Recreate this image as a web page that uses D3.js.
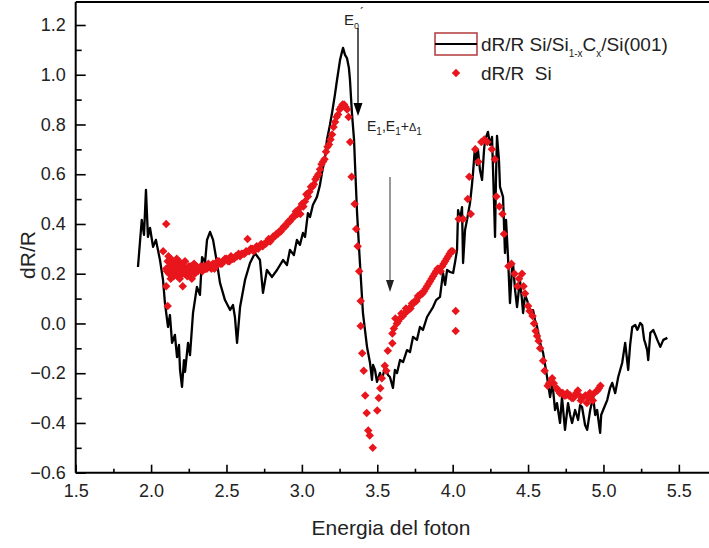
<!DOCTYPE html>
<html><head><meta charset="utf-8">
<script src="https://cdn.jsdelivr.net/npm/d3@7"></script>
<style>body{margin:0;background:#fff}svg{display:block}text{font-family:"Liberation Sans",Arial,sans-serif;fill:#222}</style>
</head><body><svg id="c" width="709" height="548"></svg>
<script>
// Black line: dR/R Si/Si(1-x)C(x)/Si(001)
const lineX = [1.913,1.938,1.953,1.966,1.979,1.993,2.013,2.032,2.059,2.079,2.092,2.112,2.125,2.139,2.158,2.172,2.185,2.192,2.205,2.218,2.225,2.245,2.258,2.278,2.304,2.324,2.338,2.358,2.371,2.391,2.411,2.437,2.457,2.490,2.524,2.543,2.556,2.570,2.590,2.623,2.656,2.689,2.722,2.742,2.768,2.802,2.835,2.875,2.901,2.921,2.947,2.967,2.987,3.007,3.021,3.040,3.054,3.073,3.100,3.120,3.133,3.153,3.166,3.186,3.200,3.219,3.233,3.253,3.266,3.273,3.286,3.299,3.312,3.319,3.332,3.346,3.352,3.366,3.385,3.405,3.432,3.452,3.465,3.472,3.485,3.498,3.518,3.531,3.551,3.571,3.584,3.604,3.617,3.631,3.651,3.671,3.697,3.717,3.737,3.763,3.783,3.803,3.830,3.850,3.870,3.890,3.916,3.936,3.950,3.963,3.983,4.003,4.016,4.029,4.036,4.049,4.062,4.069,4.082,4.095,4.115,4.128,4.135,4.148,4.161,4.168,4.181,4.195,4.208,4.215,4.234,4.248,4.261,4.274,4.281,4.287,4.294,4.307,4.314,4.334,4.347,4.354,4.367,4.380,4.393,4.400,4.414,4.427,4.446,4.460,4.467,4.480,4.493,4.513,4.533,4.546,4.560,4.580,4.600,4.613,4.626,4.646,4.659,4.666,4.679,4.692,4.712,4.725,4.745,4.765,4.779,4.792,4.812,4.832,4.845,4.858,4.878,4.892,4.912,4.932,4.945,4.958,4.978,4.985,4.998,5.025,5.044,5.058,5.078,5.098,5.111,5.124,5.144,5.164,5.177,5.191,5.211,5.224,5.231,5.244,5.257,5.270,5.277,5.290,5.297,5.311,5.330,5.344,5.357,5.377,5.397,5.424];
const lineY = [0.227,0.416,0.356,0.537,0.348,0.384,0.308,0.336,0.255,0.175,0.082,-0.014,0.034,-0.078,-0.046,-0.135,-0.086,-0.187,-0.255,-0.147,-0.195,-0.078,-0.127,0.042,0.147,0.115,0.267,0.247,0.336,0.368,0.336,0.243,0.163,0.094,0.054,0.074,0.026,-0.078,0.066,0.175,0.243,0.283,0.255,0.123,0.215,0.187,0.215,0.255,0.235,0.296,0.275,0.336,0.316,0.364,0.348,0.444,0.428,0.476,0.509,0.557,0.605,0.665,0.738,0.798,0.846,0.919,0.979,1.059,1.092,1.108,1.080,1.067,1.027,0.979,0.846,0.738,0.645,0.444,0.243,0.042,-0.094,-0.159,-0.227,-0.167,-0.187,-0.235,-0.199,-0.227,-0.175,-0.207,-0.215,-0.259,-0.187,-0.199,-0.147,-0.155,-0.107,-0.115,-0.054,-0.066,-0.014,-0.026,0.026,0.046,0.066,0.094,0.107,0.203,0.155,0.215,0.207,0.203,0.247,0.296,0.456,0.416,0.468,0.243,0.376,0.416,0.484,0.557,0.605,0.710,0.637,0.697,0.617,0.577,0.697,0.738,0.770,0.718,0.750,0.496,0.348,0.577,0.754,0.657,0.549,0.509,0.283,0.416,0.267,0.082,0.215,0.243,0.134,0.066,0.175,0.094,0.042,0.115,0.094,0.054,0.054,0.014,-0.014,-0.078,-0.119,-0.167,-0.215,-0.296,-0.247,-0.267,-0.348,-0.320,-0.400,-0.296,-0.428,-0.320,-0.368,-0.400,-0.348,-0.388,-0.328,-0.336,-0.408,-0.428,-0.348,-0.296,-0.368,-0.348,-0.440,-0.368,-0.348,-0.308,-0.259,-0.239,-0.280,-0.215,-0.187,-0.159,-0.078,-0.187,-0.086,-0.014,-0.006,-0.026,-0.018,0.002,-0.006,-0.066,-0.078,-0.107,-0.147,-0.038,-0.026,-0.046,-0.066,-0.094,-0.066,-0.058];

// Red diamonds: dR/R Si
const siX = [2.08,2.10,2.10,2.10,2.11,2.11,2.12,2.12,2.13,2.13,2.14,2.15,2.15,2.16,2.17,2.17,2.18,2.19,2.20,2.21,2.21,2.22,2.23,2.24,2.25,2.26,2.27,2.28,2.29,2.30,2.31,2.32,2.34,2.35,2.37,2.38,2.40,2.41,2.43,2.44,2.46,2.48,2.49,2.51,2.53,2.54,2.56,2.58,2.59,2.61,2.63,2.64,2.65,2.67,2.68,2.70,2.72,2.73,2.75,2.77,2.78,2.80,2.82,2.83,2.85,2.87,2.88,2.90,2.91,2.93,2.95,2.96,2.98,2.99,3.00,3.02,3.03,3.05,3.06,3.08,3.09,3.11,3.12,3.13,3.15,3.16,3.17,3.19,3.20,3.21,3.22,3.24,3.25,3.27,3.28,3.30,3.31,3.32,3.33,3.35,3.36,3.37,3.38,3.39,3.39,3.40,3.41,3.42,3.43,3.44,3.45,3.47,3.50,3.51,3.52,3.53,3.55,3.56,3.57,3.60,3.60,3.63,3.64,3.67,3.70,3.72,3.74,3.76,3.78,3.80,3.82,3.84,3.86,3.88,3.90,3.92,3.93,3.95,3.97,3.99,4.02,4.02,4.04,4.07,4.10,4.11,4.12,4.15,4.17,4.19,4.21,4.23,4.26,4.28,4.29,4.31,4.33,4.34,4.37,4.39,4.41,4.43,4.46,4.47,4.50,4.53,4.55,4.57,4.60,4.63,4.66,4.69,4.71,4.73,4.75,4.77,4.79,4.81,4.83,4.86,4.89,4.91,4.93,4.96,4.98,
  2.105,2.115,2.125,2.135,2.145,2.155,2.165,2.175,2.185,2.195,2.205,2.215,2.225,2.235,2.245,2.255,2.265,2.275,2.285,2.295,2.33,2.36,2.39,2.42,2.45,2.47,2.50,2.52,2.55,2.57,2.60,2.62,2.66,2.69,2.71,2.74,2.76,2.79,2.81,2.84,2.86,2.89,2.92,2.94,2.97,3.01,3.04,3.07,3.10,3.14,3.18,3.23,3.26,3.29,
  3.61,3.62,3.65,3.66,3.68,3.69,3.71,3.73,3.75,3.77,3.79,3.81,3.83,3.85,3.87,3.89,3.91,3.94,3.96,3.98,4.00,
  4.44,4.48,4.51,4.54,4.56,4.58,4.61,4.64,4.67,4.70,4.72,4.74,4.76,4.78,4.80,4.82,4.84,4.85,4.88,4.90,4.92,4.94,4.97];
const siY = [0.29,0.40,0.22,0.15,0.07,0.25,0.20,0.23,0.18,0.26,0.21,0.24,0.19,0.22,0.26,0.20,0.23,0.18,0.21,0.15,0.24,0.20,0.22,0.19,0.23,0.21,0.18,0.22,0.20,0.23,0.21,0.22,0.21,0.23,0.22,0.24,0.22,0.24,0.23,0.25,0.24,0.25,0.26,0.25,0.27,0.26,0.27,0.28,0.27,0.28,0.29,0.34,0.29,0.30,0.29,0.31,0.31,0.32,0.32,0.33,0.34,0.34,0.35,0.36,0.37,0.38,0.39,0.40,0.41,0.42,0.43,0.45,0.46,0.44,0.48,0.49,0.52,0.53,0.55,0.56,0.58,0.60,0.62,0.64,0.66,0.69,0.71,0.74,0.76,0.79,0.81,0.84,0.86,0.88,0.88,0.86,0.83,0.73,0.59,0.48,0.38,0.31,0.21,0.09,-0.01,-0.12,-0.19,-0.29,-0.36,-0.43,-0.45,-0.50,-0.35,-0.30,-0.26,-0.22,-0.17,-0.19,-0.11,-0.08,-0.04,0.00,0.01,0.03,0.05,0.06,0.08,0.09,0.11,0.12,0.14,0.16,0.18,0.20,0.22,0.21,0.23,0.25,0.27,0.29,0.05,-0.03,0.42,0.42,0.50,0.59,0.44,0.70,0.65,0.73,0.74,0.73,0.70,0.66,0.51,0.47,0.44,0.36,0.23,0.24,0.20,0.15,0.20,0.15,0.07,0.03,-0.03,-0.07,-0.15,-0.25,-0.22,-0.26,-0.28,-0.28,-0.29,-0.29,-0.30,-0.29,-0.27,-0.30,-0.32,-0.28,-0.31,-0.27,-0.25,
  0.21,0.27,0.22,0.20,0.25,0.21,0.23,0.19,0.25,0.22,0.20,0.22,0.25,0.21,0.21,0.20,0.23,0.21,0.24,0.22,0.23,0.22,0.23,0.22,0.25,0.24,0.26,0.25,0.26,0.27,0.28,0.28,0.30,0.30,0.30,0.31,0.32,0.33,0.35,0.36,0.37,0.39,0.41,0.43,0.44,0.47,0.51,0.55,0.59,0.65,0.72,0.83,0.87,0.87,
  -0.02,0.02,0.02,0.04,0.04,0.06,0.06,0.08,0.09,0.11,0.12,0.13,0.15,0.17,0.19,0.21,0.22,0.24,0.26,0.28,0.29,
  0.18,0.12,0.05,0.00,-0.05,-0.10,-0.19,-0.24,-0.24,-0.27,-0.28,-0.29,-0.28,-0.29,-0.30,-0.28,-0.29,-0.31,-0.29,-0.30,-0.29,-0.28,-0.26];

const xTicks = [1.5,2.0,2.5,3.0,3.5,4.0,4.5,5.0,5.5];
const yTicks = [-0.6,-0.4,-0.2,0.0,0.2,0.4,0.6,0.8,1.0,1.2];
const xMinor = [1.75,2.25,2.75,3.25,3.75,4.25,4.75,5.25];
const yMinor = [-0.5,-0.3,-0.1,0.1,0.3,0.5,0.7,0.9,1.1];
const legendLabels = ["dR/R Si/Si", "dR/R  Si"];

const svg = d3.select("#c");
const x = d3.scaleLinear().domain([1.5, 5.7]).range([75.7, 709]);
const y = d3.scaleLinear().domain([-0.6, 1.2]).range([472.7, 25]);
const fmt = d3.format(".1f");

// frame top
svg.append("line").attr("x1", 75.7).attr("x2", 709).attr("y1", y(1.292)).attr("y2", y(1.292))
  .attr("stroke", "#000").attr("stroke-width", 2);

// axes
const ax = svg.append("g").attr("transform", "translate(0,472.7)")
  .call(d3.axisBottom(x).tickValues(xTicks).tickFormat(fmt).tickSizeInner(-8).tickSizeOuter(0).tickPadding(12));
const axm = svg.append("g").attr("transform", "translate(0,472.7)")
  .call(d3.axisBottom(x).tickValues(xMinor).tickFormat("").tickSizeInner(-4).tickSizeOuter(0));
const ay = svg.append("g").attr("transform", "translate(75.7,0)")
  .call(d3.axisLeft(y).tickValues(yTicks).tickFormat(fmt).tickSizeInner(-10).tickSizeOuter(0).tickPadding(10));
const aym = svg.append("g").attr("transform", "translate(75.7,0)")
  .call(d3.axisLeft(y).tickValues(yMinor).tickFormat("").tickSizeInner(-6).tickSizeOuter(0));
[ax, axm, ay, aym].forEach(g => {
  g.selectAll("line").attr("stroke", "#000").attr("stroke-width", 1.6);
  g.selectAll("text").attr("font-size", 18).attr("fill", "#222").attr("font-family", "Liberation Sans, Arial, sans-serif");
});
axm.select(".domain").remove();
aym.select(".domain").remove();
ax.select(".domain").attr("d", "M75.7,0H709").attr("stroke-width", 2);
ay.select(".domain").attr("d", "M0," + y(1.292) + "V472.7").attr("stroke-width", 2);

// black line
const pts = lineX.map((v, i) => [v, lineY[i]]);
svg.append("path").datum(pts)
  .attr("d", d3.line().x(d => x(d[0])).y(d => y(d[1])))
  .attr("fill", "none").attr("stroke", "#000").attr("stroke-width", 2.3).attr("stroke-linejoin", "round");

// red diamonds
const sym = d3.symbol().type(d3.symbolDiamond2).size(46);
svg.append("g").selectAll("path").data(siX.map((v, i) => [v, siY[i]])).join("path")
  .attr("d", sym).attr("transform", d => `translate(${x(d[0])},${y(d[1])})`)
  .attr("fill", "#e8161c");

// axis titles
svg.append("text").attr("x", 391).attr("y", 535).attr("text-anchor", "middle")
  .attr("font-size", 21).text("Energia del foton");
svg.append("text").attr("transform", "translate(35,255) rotate(-90)").attr("text-anchor", "middle")
  .attr("font-size", 21).text("dR/R");

// legend
svg.append("rect").attr("x", 435).attr("y", 33).attr("width", 42).attr("height", 22)
  .attr("fill", "none").attr("stroke", "#b23a3a").attr("stroke-width", 1.5);
svg.append("line").attr("x1", 435).attr("x2", 477).attr("y1", 44).attr("y2", 44)
  .attr("stroke", "#000").attr("stroke-width", 2);
const lt = svg.append("text").attr("x", 481).attr("y", 51).attr("font-size", 19);
lt.append("tspan").text(legendLabels[0]);
lt.append("tspan").attr("font-size", 10).attr("dy", 6).text("1-x");
lt.append("tspan").attr("dy", -6).text("C");
lt.append("tspan").attr("font-size", 10).attr("dy", 6).text("x");
lt.append("tspan").attr("dy", -6).text("/Si(001)");
svg.append("path").attr("d", sym).attr("transform", "translate(456,73)").attr("fill", "#e8161c");
svg.append("text").attr("x", 481).attr("y", 80).attr("font-size", 19).attr("xml:space", "preserve").text(legendLabels[1]);

// annotations
const e0 = svg.append("text").attr("x", 344).attr("y", 25).attr("font-size", 15);
e0.append("tspan").text("E");
e0.append("tspan").attr("font-size", 9).attr("dy", 4).text("0");
e0.append("tspan").attr("font-size", 12).attr("dy", -12).attr("dx", 1).text("´");
svg.append("line").attr("x1", 358).attr("x2", 358).attr("y1", 28).attr("y2", 104).attr("stroke", "#000").attr("stroke-width", 1.3);
svg.append("path").attr("d", "M353.5,103L362.5,103L358,116Z").attr("fill", "#000");

const e1 = svg.append("text").attr("x", 367).attr("y", 131).attr("font-size", 14);
e1.append("tspan").text("E");
e1.append("tspan").attr("font-size", 10).attr("dy", 4).text("1");
e1.append("tspan").attr("dy", -4).text(",E");
e1.append("tspan").attr("font-size", 10).attr("dy", 4).text("1");
e1.append("tspan").attr("dy", -4).text("+");
e1.append("tspan").attr("font-size", 11).text("Δ");
e1.append("tspan").attr("font-size", 10).attr("dy", 4).text("1");
svg.append("line").attr("x1", 390).attr("x2", 390).attr("y1", 177).attr("y2", 281).attr("stroke", "#333").attr("stroke-width", 1);
svg.append("path").attr("d", "M386,280L394,280L390,292Z").attr("fill", "#222");
</script></body></html>
